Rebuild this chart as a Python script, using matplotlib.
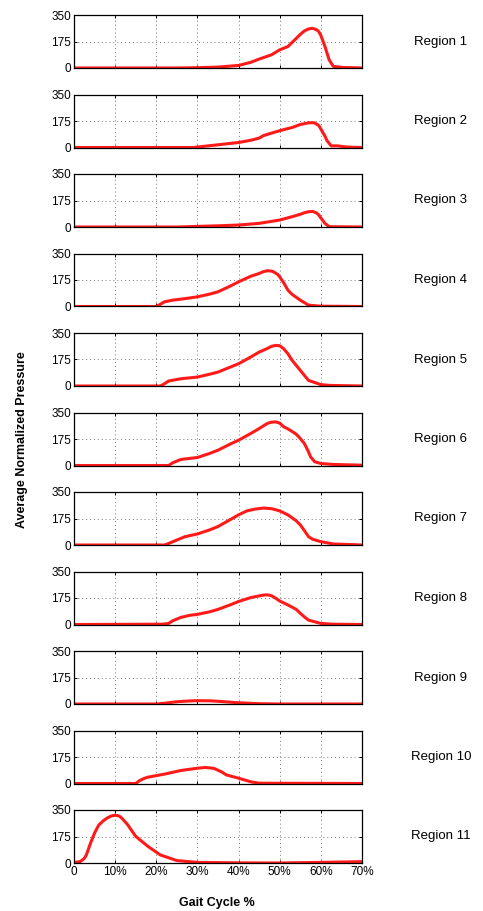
import numpy as np
import matplotlib.pyplot as plt
from matplotlib.ticker import FuncFormatter

plt.rcParams['font.family'] = ['Liberation Sans', 'DejaVu Sans']

# Average normalized pressure per region (x in % of gait cycle)
r1_x = [0, 25, 30, 35, 40, 43, 45, 48, 50, 52, 54, 55, 56, 57, 58, 59, 59.5, 60, 61, 62, 63, 65, 70]
r1_y = [0, 0, 2, 6, 17, 38, 59, 87, 120, 142, 195, 222, 245, 258, 262, 252, 240, 215, 142, 55, 11, 4, 0]

r2_x = [0, 29, 30, 35, 40, 43, 45, 46, 48, 50, 53, 55, 57, 58, 58.5, 59.5, 60, 61, 61.5, 62.5, 64, 66, 68, 70]
r2_y = [0, 0, 3, 18, 33, 48, 62, 78, 95, 111, 132, 152, 163, 164, 162, 145, 122, 75, 45, 11, 11, 4, 1, 0]

r3_x = [0, 25, 30, 35, 40, 45, 50, 53, 55, 56, 57, 58, 59, 59.5, 60, 61, 62, 70]
r3_y = [0, 0, 4, 8, 13, 24, 46, 68, 84, 94, 101, 103, 92, 79, 60, 24, 2, 0]

r4_x = [0, 20, 21, 22, 24, 27, 30, 33, 35, 38, 40, 43, 45, 46, 47, 48, 48.5, 49.5, 50, 51, 52, 53, 55, 57, 60, 70]
r4_y = [0, 0, 15, 31, 42, 52, 64, 82, 97, 135, 163, 200, 218, 230, 236, 234, 229, 212, 196, 155, 108, 80, 42, 9, 2, 0]

r5_x = [0, 21, 22, 23, 26, 30, 33, 35, 38, 40, 43, 45, 47, 48, 49, 50, 51, 52, 53, 55, 57, 60, 62, 70]
r5_y = [0, 0, 15, 33, 48, 59, 78, 92, 125, 147, 192, 224, 248, 262, 268, 266, 245, 213, 170, 103, 37, 9, 4, 0]

r6_x = [0, 23, 24, 26, 30, 33, 35, 38, 40, 43, 45, 47, 48, 49, 50, 51, 52, 54, 55, 56, 57, 57.5, 58.5, 60, 63, 70]
r6_y = [0, 0, 18, 40, 53, 80, 101, 142, 167, 212, 244, 278, 286, 288, 280, 255, 242, 207, 178, 145, 90, 57, 25, 13, 7, 2]

r7_x = [0, 22, 23, 25, 27, 30, 33, 35, 38, 40, 42, 44, 46, 48, 49, 50, 52, 54, 55, 56, 57, 58, 60, 63, 70]
r7_y = [0, 0, 10, 33, 55, 73, 100, 122, 168, 199, 225, 237, 244, 240, 233, 225, 199, 160, 133, 95, 55, 38, 22, 7, 0]

r8_x = [0, 21.5, 23, 24, 26, 28, 30, 33, 35, 38, 40, 43, 45, 46, 47, 48, 49, 50, 52, 54, 55, 56, 57, 60, 63, 70]
r8_y = [0, 2, 7, 25, 47, 60, 67, 84, 100, 130, 152, 178, 189, 194, 196, 190, 174, 155, 129, 100, 74, 50, 29, 7, 2, 0]

r9_x = [0, 20, 22, 25, 28, 30, 33, 35, 40, 45, 50, 70]
r9_y = [0, 0, 5, 15, 20, 22, 21, 18, 8, 2, 0, 0]

r10_x = [0, 15, 16, 17, 18, 20, 22, 26, 30, 32, 34, 36, 37, 40, 43, 45, 70]
r10_y = [0, 0, 20, 33, 42, 52, 62, 86, 101, 106, 100, 75, 57, 35, 11, 2, 0]

r11_x = [0, 1.5, 2.5, 3, 4, 5, 6, 7, 8, 9, 10, 11, 11.5, 12, 13, 15, 18, 21, 25, 30, 40, 50, 60, 70]
r11_y = [4, 9, 30, 53, 130, 198, 250, 276, 296, 310, 316, 310, 299, 285, 254, 176, 109, 53, 16, 4, 1, 0, 4, 9]

xs = [r1_x, r2_x, r3_x, r4_x, r5_x, r6_x, r7_x, r8_x, r9_x, r10_x, r11_x]
ys = [r1_y, r2_y, r3_y, r4_y, r5_y, r6_y, r7_y, r8_y, r9_y, r10_y, r11_y]
names = ['Region %d' % i for i in range(1, 12)]

fig = plt.figure(figsize=(4.83, 9.11), dpi=100)
W, H = 483.0, 911.0
left, right = 74, 362
top0, ax_h, step = 15, 53, 79.5

for i in range(11):
    top = top0 + i * step
    ax = fig.add_axes([left / W, 1 - (top + ax_h) / H, (right - left) / W, ax_h / H])
    ax.plot(xs[i], ys[i], color='#ff1a1a', lw=2.2, solid_joinstyle='round')
    ax.set_xlim(0, 70)
    ax.set_ylim(0, 350)
    ax.set_xticks(np.arange(0, 71, 10))
    ax.set_yticks([0, 175, 350])
    ax.grid(True, linestyle=(0, (1, 3)), color='#777777', lw=0.7)
    ax.tick_params(direction='in', length=2.5, labelsize=8.5, width=0.7,
                   top=True, right=True, pad=2)
    for s in ax.spines.values():
        s.set_linewidth(0.9)
    if i < 10:
        ax.set_xticklabels([])
    else:
        ax.xaxis.set_major_formatter(FuncFormatter(lambda v, p: '0' if v == 0 else '%d%%' % v))
    ax.text(441 / W, 1 - (top + ax_h / 2) / H, names[i], transform=fig.transFigure,
            ha='center', va='center', fontsize=9.5)

fig.text(217 / W, 1 - 903 / H, 'Gait Cycle %', ha='center', va='center',
         fontsize=9, fontweight='bold')
fig.text(22 / W, 1 - 440 / H, 'Average Normalized Pressure', ha='center', va='center',
         rotation=90, fontsize=9, fontweight='bold')

fig.savefig('out.png', dpi=100)
